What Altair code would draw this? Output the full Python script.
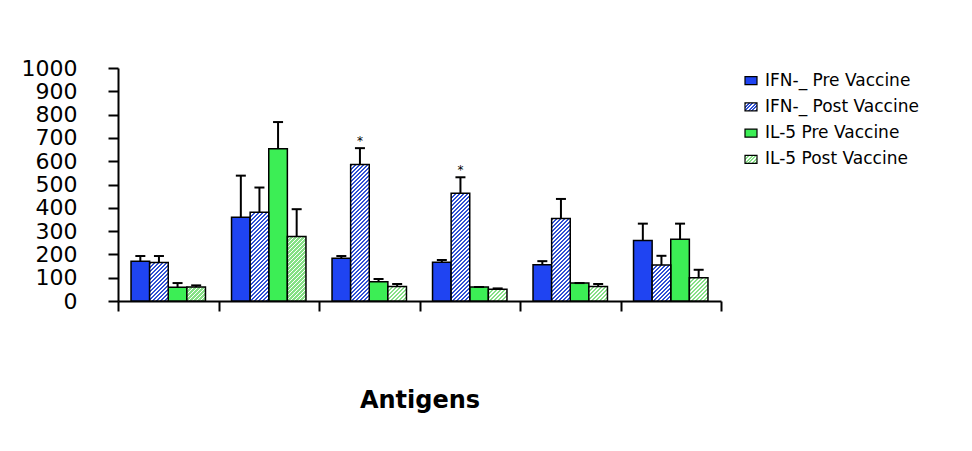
import altair as alt
import pandas as pd

# ---- data ----
groups = ["Antigen 1", "Antigen 2", "Antigen 3", "Antigen 4", "Antigen 5", "Antigen 6"]
series = ["IFN-_ Pre Vaccine", "IFN-_ Post Vaccine", "IL-5 Pre Vaccine", "IL-5 Post Vaccine"]

ifn_pre = [171, 359, 183, 166, 156, 260]
ifn_post = [165, 381, 586, 462, 354, 154]
il5_pre = [59, 653, 83, 60, 77, 265]
il5_post = [60, 277, 62, 50, 62, 100]

ifn_pre_sem = [22, 179, 10, 10, 15, 72]
ifn_post_sem = [28, 106, 70, 69, 84, 40]
il5_pre_sem = [18, 115, 11, 0, 0, 67]
il5_post_sem = [7, 117, 11, 4, 11, 34]

ifn_post_sig = ["", "", "*", "*", "", ""]

# ---- styling ----
W, H = 603, 233
Y_MAX = 1000
PAD_OUTER = 0.7
BLUE = "#1f44f2"
GREEN = "#3cee55"
BLUE_HATCH = "#2f50d4"
GREEN_HATCH = "#86e086"
FONT = "DejaVu Sans"

values = [ifn_pre, ifn_post, il5_pre, il5_post]
sems = [ifn_pre_sem, ifn_post_sem, il5_pre_sem, il5_post_sem]
rows = []
for si, s in enumerate(series):
    for gi, g in enumerate(groups):
        rows.append({
            "group": g,
            "series": s,
            "value": values[si][gi],
            "sem": sems[si][gi],
            "sig": ifn_post_sig[gi] if si == 1 else "",
        })
df = pd.DataFrame(rows)


def stripe_gradient(w, h, color, bg="white", period=4.0, duty=0.55):
    """Diagonal '/' stripes as a hard-stop linear gradient in bbox units."""
    n = (w + h) / period
    stops = []
    k = 0
    while k / n < 1:
        a = k / n
        b = min((k + duty) / n, 1.0)
        stops += [{"offset": a, "color": color}, {"offset": b, "color": color}]
        if b < 1:
            c = min((k + 1) / n, 1.0)
            stops += [{"offset": b, "color": bg}, {"offset": c, "color": bg}]
        k += 1
    s = w * w + h * h
    return {"gradient": "linear", "x1": 0, "y1": 0,
            "x2": w * (w + h) / s, "y2": h * (w + h) / s, "stops": stops}


bar_w = (W / len(groups)) / (len(series) + 2 * PAD_OUTER)

x_enc = alt.X("group:N", sort=groups,
              scale=alt.Scale(domain=groups, paddingInner=0, paddingOuter=0),
              axis=alt.Axis(labels=False, tickBand="extent", tickSize=10, tickWidth=2,
                            tickColor="black", domainColor="black", domainWidth=2,
                            title="Antigens", titleFont=FONT, titleFontSize=24,
                            titleFontWeight="bold", titleColor="black", titlePadding=76))
xo_enc = alt.XOffset("series:N", sort=series,
                     scale=alt.Scale(domain=series, paddingInner=0, paddingOuter=PAD_OUTER))
y_scale = alt.Scale(domain=[0, Y_MAX], nice=False)
y_axis = alt.Axis(values=list(range(0, 1001, 100)), format="d", tickSize=10, tickWidth=2,
                  tickColor="black", domainColor="black", domainWidth=2, labelFont=FONT,
                  labelFontSize=22, labelColor="black", labelPadding=31, labelFlush=False,
                  labelOverlap=False, grid=False, title=None)

base = alt.Chart(df)

solid = base.transform_filter(
    alt.FieldOneOfPredicate(field="series", oneOf=[series[0], series[2]])
).mark_bar(stroke="black", strokeWidth=1.5).encode(
    x=x_enc, xOffset=xo_enc,
    y=alt.Y("value:Q", scale=y_scale, axis=y_axis),
    fill=alt.Fill("series:N", scale=alt.Scale(domain=[series[0], series[2]], range=[BLUE, GREEN]),
                  legend=None),
)

layers = [solid]
hatch_colors = {series[1]: BLUE_HATCH, series[3]: GREEN_HATCH}
for s, col in hatch_colors.items():
    for gi, g in enumerate(groups):
        v = values[series.index(s)][gi]
        h = v * H / Y_MAX
        grad = stripe_gradient(bar_w, h, col)
        layers.append(
            base.transform_filter(
                (alt.datum.series == s) & (alt.datum.group == g)
            ).mark_bar(stroke="black", strokeWidth=1.5, fill=grad).encode(
                x=x_enc, xOffset=xo_enc,
                y=alt.Y("value:Q", scale=y_scale, axis=None),
            )
        )

err = base.transform_calculate(upper="datum.value + datum.sem")
layers.append(
    err.mark_rule(color="black", strokeWidth=2).encode(
        x=x_enc, xOffset=xo_enc,
        y=alt.Y("value:Q", scale=y_scale, axis=None),
        y2="upper:Q",
    )
)
layers.append(
    err.mark_tick(color="black", thickness=2, size=10, orient="horizontal", opacity=1).encode(
        x=x_enc, xOffset=xo_enc,
        y=alt.Y("upper:Q", scale=y_scale, axis=None),
    )
)
layers.append(
    err.transform_filter(alt.datum.sig != "").mark_text(
        font=FONT, fontSize=12, color="black", baseline="middle", dy=-7
    ).encode(
        x=x_enc, xOffset=xo_enc,
        y=alt.Y("upper:Q", scale=y_scale, axis=None),
        text="sig:N",
    )
)

# ---- legend (drawn as marks to the right of the plot) ----
leg_df = pd.DataFrame({"series": series})
leg_y = alt.Y("series:N", sort=series,
              scale=alt.Scale(domain=series, range=[12.7, 91.3], padding=0), axis=None)
sw_w, sw_h = 12, 8
sw_fills = [BLUE, stripe_gradient(sw_w, sw_h, BLUE_HATCH, period=3.5),
            GREEN, stripe_gradient(sw_w, sw_h, GREEN_HATCH, period=3.5)]
for s, f in zip(series, sw_fills):
    layers.append(
        alt.Chart(leg_df).transform_filter(alt.datum.series == s).mark_point(
            shape="M-1,-0.6667H1V0.6667H-1Z", size=sw_w * sw_w, filled=True, opacity=1,
            fill=f, stroke="black", strokeWidth=1.2,
        ).encode(x=alt.value(633), y=leg_y)
    )
layers.append(
    alt.Chart(leg_df).mark_text(align="left", baseline="middle", font=FONT, fontSize=17,
                                color="black").encode(
        x=alt.value(647), y=leg_y, text="series:N")
)

chart = alt.layer(*layers).resolve_scale(y="independent").properties(
    width=W, height=H,
    padding={"left": 13, "top": 49, "right": 5, "bottom": 5},
).configure_view(stroke=None)

chart.save("out.html", embed_options={"renderer": "svg", "actions": False})
